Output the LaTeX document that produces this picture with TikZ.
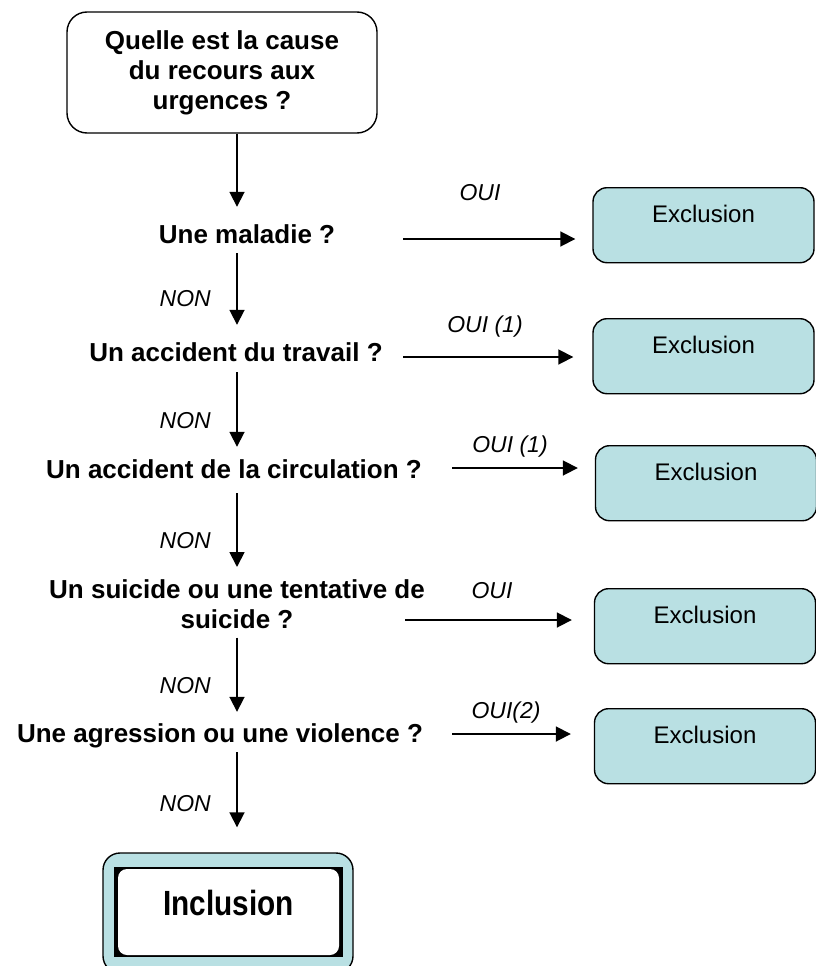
\documentclass[tikz,border=0pt]{standalone}
\usepackage{fontspec}
\usepackage{graphicx}
\setmainfont{Liberation Sans}
\usetikzlibrary{arrows.meta}
\definecolor{exclblue}{RGB}{185,224,227}
\newcommand{\questionFont}[0]{\fontsize{26}{30}\selectfont\bfseries}
\newcommand{\answerFont}[0]{\fontsize{23}{27}\selectfont\itshape}

\begin{document}
\begin{tikzpicture}[x=1pt,y=-1pt]
  \tikzset{
    question/.style={font=\questionFont,align=center,inner sep=0pt},
    oneline/.style={question,text height=19pt,text depth=6pt,anchor=base},
    answer/.style={font=\answerFont,inner sep=0pt,text height=17pt,text depth=0pt},
    flow/.style={line width=1.8pt,-{Triangle[length=15pt,width=15pt]}},
    exclbox/.style={draw=black,line width=1.4pt,fill=exclblue,rounded corners=14pt,
      minimum width=221pt,inner ysep=18pt,text height=17pt,text depth=22pt,
      font=\fontsize{24}{28}\selectfont,anchor=north}
  }
  \useasboundingbox (0,0) rectangle (816,966);
  \clip (0,0) rectangle (816,966);
  \coordinate (axis) at (237,0);

  % questions
  \node[question,draw=black,line width=1.4pt,rounded corners=20pt,
    minimum width=310pt,minimum height=121pt] (cause) at (222,72.5)
    {Quelle est la cause\\du recours aux\\urgences ?};
  \node[oneline] (q1) at (247,243) {Une maladie ?};
  \node[oneline] (q2) at (236,361) {Un accident du travail ?};
  \node[oneline] (q3) at (234,478) {Un accident de la circulation ?};
  \node[question,anchor=north] (q4) at (237,579) {Un suicide ou une tentative de\\suicide ?};
  \node[oneline] (q5) at (220,742) {Une agression ou une violence ?};

  % inclusion
  \node[draw=black,line width=1.4pt,fill=exclblue,rounded corners=17pt,
    minimum width=250pt,minimum height=120pt] (incl) at (228,913) {};
  \node[fill=black,minimum width=229pt,minimum height=90pt,inner sep=0pt] (inclframe) at (228.5,912) {};
  \node[fill=white,rounded corners=9pt,minimum width=221pt,minimum height=86pt,inner sep=0pt,
    text height=26pt,text depth=20pt,font=\fontsize{35}{40}\selectfont\bfseries] (incltext) at (228.5,912)
    {\scalebox{0.85}[1]{Inclusion}};

  % exclusions
  \node[exclbox] (x1) at (703.5,187) {Exclusion};
  \node[exclbox] (x2) at (703.5,318) {Exclusion};
  \node[exclbox] (x3) at (706,445) {Exclusion};
  \node[exclbox] (x4) at (705,588) {Exclusion};
  \node[exclbox] (x5) at (705,708) {Exclusion};

  % NON branch
  \draw[flow,shorten >=17pt] (cause.south -| axis) -- (q1.north -| axis);
  \draw[flow,shorten <=4pt,shorten >=17pt] (q1.south -| axis) -- (q2.north -| axis);
  \draw[flow,shorten <=5pt,shorten >=12pt] (q2.south -| axis) -- (q3.north -| axis);
  \draw[flow,shorten <=9pt,shorten >=12pt] (q3.south -| axis) -- (q4.north -| axis);
  \draw[flow,shorten <=9pt,shorten >=11pt] (q4.south -| axis) -- (q5.north -| axis);
  \draw[flow,shorten <=4pt,shorten >=25pt] (q5.south -| axis) -- (incl.north -| axis);
  \node[answer,anchor=east] (non1) at (211,298) {NON};
  \node[answer,anchor=east] (non2) at (211,420) {NON};
  \node[answer,anchor=east] (non3) at (211,540) {NON};
  \node[answer,anchor=east] (non4) at (211,685) {NON};
  \node[answer,anchor=east] (non5) at (211,803) {NON};

  % OUI branch
  \coordinate (s1) at (403,239);
  \coordinate (s2) at (403,357);
  \coordinate (s3) at (452,468);
  \coordinate (s4) at (405,620);
  \coordinate (s5) at (452,734);
  \draw[flow,shorten >=17pt] (s1) -- (x1.west |- s1);
  \draw[flow,shorten >=19pt] (s2) -- (x2.west |- s2);
  \draw[flow,shorten >=17pt] (s3) -- (x3.west |- s3);
  \draw[flow,shorten >=22pt] (s4) -- (x4.west |- s4);
  \draw[flow,shorten >=23pt] (s5) -- (x5.west |- s5);
  \node[answer] (oui1) at (480,192) {OUI};
  \node[answer] (oui2) at (485,324) {OUI (1)};
  \node[answer] (oui3) at (510,444) {OUI (1)};
  \node[answer] (oui4) at (492,590) {OUI};
  \node[answer] (oui5) at (506,710) {OUI(2)};
\end{tikzpicture}
\end{document}
